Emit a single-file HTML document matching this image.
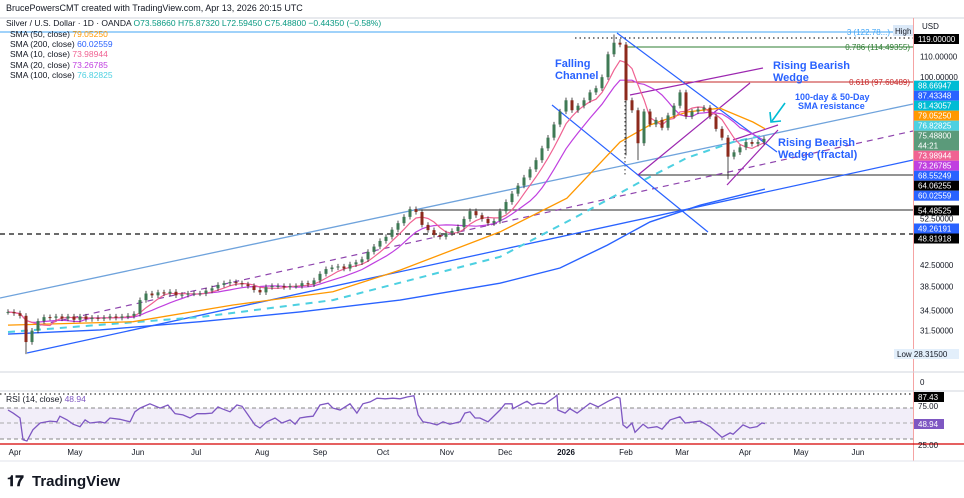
<!DOCTYPE html>
<html><head><meta charset="utf-8">
<style>
html,body{margin:0;padding:0;background:#fff;}
body{width:964px;height:498px;overflow:hidden;position:relative;font-family:"Liberation Sans",sans-serif;}
svg{position:absolute;left:0;top:0;}
</style></head>
<body>
<svg id="chart" width="964" height="498" viewBox="0 0 964 498">
  <rect x="0" y="0" width="964" height="498" fill="#fff"/>
  <text x="6" y="11" font-size="9" fill="#131722">BrucePowersCMT created with TradingView.com, Apr 13, 2026 20:15 UTC</text>
  <line x1="0" y1="18" x2="964" y2="18" stroke="#d1d4dc"/>
  <line x1="913.5" y1="18" x2="913.5" y2="461" stroke="#f5a3a3"/>
  <line x1="0" y1="372" x2="964" y2="372" stroke="#d1d4dc"/>
  <line x1="0" y1="391" x2="964" y2="391" stroke="#d1d4dc"/>
  <line x1="0" y1="461" x2="964" y2="461" stroke="#e0e3eb"/>
  <g id="drawings">
    <line x1="0" y1="32" x2="913" y2="32" stroke="#42a5f5" stroke-width="1"/>
    <line x1="575" y1="38" x2="913" y2="38" stroke="#333" stroke-dasharray="1.5,3" stroke-width="1.3"/>
    <line x1="625" y1="47" x2="913" y2="47" stroke="#2e7d32"/>
    <line x1="625" y1="82" x2="913" y2="82" stroke="#c62828"/>
    <line x1="638" y1="175" x2="913" y2="175" stroke="#555" stroke-width="1.2"/>
    <line x1="415" y1="210" x2="913" y2="210" stroke="#555" stroke-width="1.2"/>
    <line x1="0" y1="234" x2="913" y2="234" stroke="#111" stroke-dasharray="5,4" stroke-width="1.2"/>
    <line x1="625" y1="45" x2="625" y2="175" stroke="#333" stroke-dasharray="1.5,2.5"/>
    <line x1="0" y1="298" x2="913" y2="104" stroke="#6fa3dc" stroke-width="1.3"/>
    <line x1="40" y1="325" x2="913" y2="131" stroke="#8e44ad" stroke-dasharray="6,5" stroke-width="1.2"/>
    <line x1="27" y1="353" x2="913" y2="160" stroke="#2962ff" stroke-width="1.3"/>
    <line x1="617" y1="33" x2="777" y2="152" stroke="#2962ff" stroke-width="1.2"/>
    <line x1="552" y1="105" x2="708" y2="232" stroke="#2962ff" stroke-width="1.2"/>
    <line x1="630" y1="95" x2="763" y2="68" stroke="#9c27b0" stroke-width="1.2"/>
    <line x1="638" y1="175" x2="750" y2="83" stroke="#9c27b0" stroke-width="1.2"/>
    <line x1="733" y1="140" x2="778" y2="125" stroke="#9c27b0" stroke-width="1.2"/>
    <line x1="727" y1="185" x2="778" y2="130" stroke="#9c27b0" stroke-width="1.2"/>
    <line x1="785" y1="103" x2="772" y2="121" stroke="#00bcd4" stroke-width="1.6"/>
    <polyline points="770,112 771,122 781,121" fill="none" stroke="#00bcd4" stroke-width="1.6"/>
    <g font-size="11" fill="#2962ff" font-weight="bold">
      <text x="555" y="67">Falling</text>
      <text x="555" y="79">Channel</text>
      <text x="773" y="69">Rising Bearish</text>
      <text x="773" y="81">Wedge</text>
      <text x="778" y="146">Rising Bearish</text>
      <text x="778" y="158">Wedge (fractal)</text>
    </g>
    <g font-size="9" fill="#2962ff" font-weight="bold">
      <text x="795" y="100">100-day &amp; 50-Day</text>
      <text x="798" y="109">SMA resistance</text>
    </g>
    <text x="890" y="35" font-size="8" fill="#42a5f5" text-anchor="end">3 (122.78...)</text>
    <rect x="893" y="25" width="20" height="11" fill="#dbe9f8"/>
    <text x="895" y="34" font-size="8" fill="#131722">High</text>
    <text x="910" y="50" font-size="8" fill="#2e7d32" text-anchor="end">0.786 (114.49355)</text>
    <text x="910" y="85" font-size="8" fill="#c62828" text-anchor="end">0.618 (97.60489)</text>
  </g>
  <g id="smas"></g>
  <g id="candles"></g>
  <rect x="0" y="408" width="913" height="31" fill="#ede7f6" opacity="0.7"/>
  <line x1="0" y1="394" x2="913" y2="394" stroke="#333" stroke-dasharray="1.5,3" stroke-width="1.3"/>
  <line x1="0" y1="408" x2="913" y2="408" stroke="#888" stroke-dasharray="4,3"/>
  <line x1="0" y1="423" x2="913" y2="423" stroke="#aaa" stroke-dasharray="4,3"/>
  <line x1="0" y1="439" x2="913" y2="439" stroke="#888" stroke-dasharray="4,3"/>
  <line x1="0" y1="444" x2="964" y2="444" stroke="#d50000" stroke-width="1.3"/>
  <g id="rsi"></g>
  <text x="6" y="402" font-size="8.5" fill="#131722">RSI (14, close) <tspan fill="#7e57c2">48.94</tspan></text>
  <g id="legend" font-size="8.5" fill="#131722">
    <text x="6" y="26">Silver / U.S. Dollar · 1D · OANDA <tspan fill="#089981">O73.58660 H75.87320 L72.59450 C75.48800 −0.44350 (−0.58%)</tspan></text>
    <text x="10" y="37">SMA (50, close) <tspan fill="#ff9800">79.05250</tspan></text>
    <text x="10" y="47">SMA (200, close) <tspan fill="#2962ff">60.02559</tspan></text>
    <text x="10" y="57">SMA (10, close) <tspan fill="#f06292">73.98944</tspan></text>
    <text x="10" y="68">SMA (20, close) <tspan fill="#c040e0">73.26785</tspan></text>
    <text x="10" y="78">SMA (100, close) <tspan fill="#4dd0e1">76.82825</tspan></text>
  </g>
  <g id="axis" font-size="8">
    <text x="922" y="29" fill="#131722">USD</text>
  </g>
  <g id="timeaxis" font-size="8" fill="#131722"></g>
  <g>
    <text x="7" y="486" font-size="15" font-weight="bold" fill="#131722">𝟏𝟕</text>
    <text x="32" y="486" font-size="15" font-weight="bold" fill="#131722">TradingView</text>
  </g>
</svg>
<script>
const NS='http://www.w3.org/2000/svg';
const closes=[34.3,34.1,33.7,29.9,31.5,32.9,33.5,33.4,33.6,33.3,33.6,33.1,33.6,33.2,33.4,33.3,33.4,33.6,33.4,33.6,33.7,34.0,36.2,37.3,37.0,37.5,37.3,37.6,37.0,37.1,37.3,37.3,37.3,37.8,38.2,38.8,39.1,39.3,39.1,38.9,38.6,37.9,37.5,38.4,38.6,38.6,38.4,38.6,38.6,39.1,38.9,39.6,40.8,41.7,42.0,42.2,41.8,42.6,43.0,43.6,45.1,46.2,47.4,48.3,49.9,51.4,52.9,54.8,54.1,51.0,49.8,48.7,48.3,49.1,49.6,50.5,52.4,54.3,53.3,52.4,51.4,51.9,54.3,56.6,58.8,61.0,63.3,65.7,68.5,72.3,75.9,80.6,85.5,90.0,86.0,87.8,90.0,93.3,95.1,100,111,117,116,90,86,74,85.5,80.6,82.3,79.4,84,87.8,93.3,83.6,85.5,86.3,87.0,83.6,79.0,75.9,69.6,71.0,72.6,74.4,73.8,74.4,75.5];
const lowOverrides={3:28.3,103:70,105:68.5,120:62.8};
const highOverrides={101:121.5,102:119};
const sma50Days=[0,41.7,75,108.3,130.7,164,186.3,204,214,226.3,237.3,248.3,252.3];
const sma50Vals=[32.3,32.8,35.4,37.6,41.5,49.4,57.6,74.4,80.4,85.3,86.8,81.5,79.05];
const sma100Days=[0,64,108.3,164,190.7,210.7,226.3,241.7,252.3];
const sma100Vals=[31.3,33.5,36.2,44.1,53.4,62.0,69.2,74.4,76.83];
const sma200Days=[0,30.7,64,97.3,130.7,164,184,199.7,214,230.7,252.3];
const sma200Vals=[31.0,31.6,32.8,34.3,36.2,39.1,41.9,46.5,51.7,55.8,60.03];
const rsiDays=[0,1.7,4,5,6.3,8.3,10.7,14,16.3,17.3,19.7,21.7,24,25.7,27.3,30.7,32.3,34,37.3,40.7,42.3,44,47.3,50.7,53.3,55.7,58.3,60.7,63,65.7,68,70,71.3,74,76.3,78,80,82.3,84,86.3,89,91.3,94,95.7,97.3,99.7,101.7,104,106.7,108.3,110.7,114,116.3,118.3,120.7,123,125.7,128.3,130.7,133,135.3,136.7,138.3,140.7,143,145,147.3,150.7,152.3,154,155.7,157.3,160,164,165.7,168,168.3,171.7,173,174.7,176.7,179,182.3,183,183.3,185.7,187.3,189.7,194,196.7,200,203,204,205,206.3,208,209,211.7,213.3,216.3,218,220.7,224,225.7,230.7,234,238,240.7,241.7,245,247.3,249.7,251.3,252.3];
const rsiVals=[71,66,58,23,21,39,50,53,52,61,55,48,44,55,50,52,50,58,56,52,68,74,81,74,79,65,63,58,65,65,66,76,73,68,79,77,63,47,42,52,58,50,55,48,58,60,61,79,82,74,71,81,66,81,84,90,89,90,89,92,94,63,52,50,47,52,48,52,66,68,58,58,52,71,81,81,73,82,85,79,82,81,92,95,71,66,73,66,82,76,85,92,90,47,42,50,35,48,42,44,40,55,60,50,53,44,27,34,32,47,42,44,50,49];
const priceTicks=[110,100,52.5,42.5,38.5,34.5,31.5];
const priceTickLabels=['110.00000','100.00000','52.50000','42.50000','38.50000','34.50000','31.50000'];
const badgeVals=[119,88.66947,87.43348,81.43057,79.05250,76.82825,75.48800,73.98944,73.26785,68.55249,64.06255,60.02559,54.48525,49.26191,48.81918];
const badgeLabels=['119.00000','88.66947','87.43348','81.43057','79.05250','76.82825','75.48800','73.98944','73.26785','68.55249','64.06255','60.02559','54.48525','49.26191','48.81918'];
const badgeColors=['#000','#00bcd4','#2962ff','#00bcd4','#ff9800','#4dd0e1','#5b9a7a','#f06292','#c040e0','#2962ff','#000','#2962ff','#000','#2962ff','#000'];
const monthLabels=['Apr','May','Jun','Jul','Aug','Sep','Oct','Nov','Dec','2026','Feb','Mar','Apr','May','Jun'];
const monthDays=[2.3,22.3,43.3,62.7,84.7,104,125,146.3,165.7,186,206,224.7,245.7,264.3,283.3];
const xS=d=>8+d*3;
const yS=p=>39+(Math.log(119)-Math.log(p))*219.4;
const yR=v=>423-(v-50)*0.62;
function el(tag,attrs,parent){const e=document.createElementNS(NS,tag);for(const k in attrs)e.setAttribute(k,attrs[k]);parent.appendChild(e);return e;}
const gS=document.getElementById('smas');
function line(days,vals,color,dash,w,name){
  const pts=days.map((d,i)=>xS(d).toFixed(1)+','+yS(vals[i]).toFixed(1)).join(' ');
  const p=el('polyline',{points:pts,fill:'none',stroke:color,'stroke-width':w},gS);
  if(dash)p.setAttribute('stroke-dasharray',dash);
  
  
}
function rolling(n){return closes.map((c,i)=>{const s=closes.slice(Math.max(0,i-n+1),i+1);return s.reduce((a,b)=>a+b,0)/s.length;});}
const barDays=closes.map((c,i)=>i*2);
line(sma200Days,sma200Vals,'#2962ff',null,1.4,'sma200-line');
line(sma100Days,sma100Vals,'#4dd0e1','7,6',2,'sma100-line');
line(sma50Days,sma50Vals,'#ff9800',null,1.3,'sma50-line');
line(barDays,rolling(10),'#c040e0',null,1.2,'sma20-line');
line(barDays,rolling(5),'#f06292',null,1.2,'sma10-line');
const gC=document.getElementById('candles');
closes.forEach((c,i)=>{
  const o=i===0?c:closes[i-1];
  let hi=Math.max(o,c)*1.012, lo=Math.min(o,c)*0.988;
  if(lowOverrides[i])lo=lowOverrides[i];
  if(highOverrides[i])hi=highOverrides[i];
  const up=c>=o, col=up?'#3f7a55':'#8c2a1c';
  const x=xS(i*2);
  const wk=el('line',{x1:x,x2:x,y1:yS(hi),y2:yS(lo),stroke:'#222','stroke-width':0.8},gC);
  
  
  const y1=yS(Math.max(o,c)), y2=yS(Math.min(o,c));
  const b=el('rect',{x:x-1.5,y:y1,width:3,height:Math.max(1,y2-y1),fill:col},gC);
  
  
});
const gR=document.getElementById('rsi');
const rp=el('polyline',{points:rsiDays.map((d,i)=>xS(d).toFixed(1)+','+yR(rsiVals[i]).toFixed(1)).join(' '),fill:'none',stroke:'#7e57c2','stroke-width':1.3},gR);


const gA=document.getElementById('axis');
priceTicks.forEach((p,i)=>{
  const t=el('text',{x:920,y:yS(p)+3,fill:'#131722'},gA);t.textContent=priceTickLabels[i];
  
  
});
// label layout: spread overlapping badges
const LASTIDX=6;
const heights=badgeVals.map((v,i)=>i===LASTIDX?20:10);
const pos=badgeVals.map(v=>yS(v));
for(let it=0;it<400;it++){
  for(let i=1;i<pos.length;i++){
    const need=heights[i-1]/2+heights[i]/2;
    const gap=pos[i]-pos[i-1];
    if(gap<need){const d=(need-gap)/2;pos[i-1]-=d;pos[i]+=d;}
  }
  pos[0]=Math.max(pos[0],39);
}
badgeVals.forEach((v,i)=>{
  const y=pos[i], h=heights[i];
  const r=el('rect',{x:914,y:y-h/2,width:45,height:h,fill:badgeColors[i]},gA);
  
  
  const ty=i===LASTIDX?y-2:y+3;
  const t=el('text',{x:918,y:ty,fill:'#fff'},gA);t.textContent=badgeLabels[i];
  
  
  if(i===LASTIDX){
    const cd=el('text',{x:918,y:y+8,fill:'#fff'},gA);cd.textContent='44:21';
    
    
  }
});
const lowBg=el('rect',{x:894,y:349,width:65,height:10,fill:'#e3effb'},gA);


const lowT=el('text',{x:897,y:357,fill:'#131722'},gA);lowT.textContent='Low  28.31500';


const z=el('text',{x:920,y:385,fill:'#131722'},gA);z.textContent='0';


[['75.00',406,'#131722',null],['25.00',445,'#131722',null],['87.43',397,'#fff','#000'],['48.94',424,'#fff','#7e57c2']].forEach(a=>{
  if(a[3]){const r=el('rect',{x:914,y:a[1]-5,width:30,height:10,fill:a[3]},gA);
    
    }
  const t=el('text',{x:918,y:a[1]+3,fill:a[2]},gA);t.textContent=a[0];
  
  
});
const gT=document.getElementById('timeaxis');
monthLabels.forEach((m,i)=>{
  const t=el('text',{x:xS(monthDays[i]),y:455,'text-anchor':'middle','font-weight':(m==='2026'?'bold':'normal')},gT);
  t.textContent=m;
  
  
});
</script>
</body></html>
